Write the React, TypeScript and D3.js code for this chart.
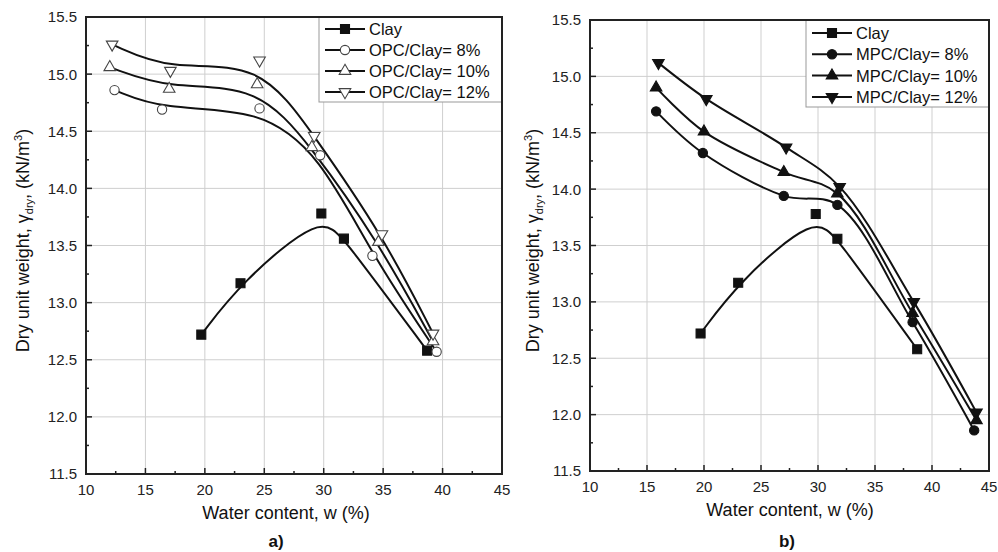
import React, { useRef, useEffect } from "react";
import * as d3 from "d3";

// Clay (same in both panels)
const clayW = [19.7, 23.0, 29.8, 31.7, 38.7];
const clayG = [12.72, 13.17, 13.78, 13.56, 12.58];

// panel a) OPC
const opc8W = [12.4, 16.4, 24.6, 29.7, 34.1, 39.5];
const opc8G = [14.86, 14.69, 14.7, 14.29, 13.41, 12.57];
const opc10W = [12.0, 17.0, 24.4, 29.0, 34.6, 39.2];
const opc10G = [15.06, 14.87, 14.91, 14.36, 13.53, 12.66];
const opc12W = [12.2, 17.1, 24.6, 29.2, 34.9, 39.2];
const opc12G = [15.26, 15.03, 15.12, 14.46, 13.6, 12.73];

// panel b) MPC
const mpc8W = [15.8, 19.9, 27.0, 31.7, 38.3, 43.7];
const mpc8G = [14.69, 14.32, 13.94, 13.86, 12.82, 11.86];
const mpc10W = [15.8, 20.0, 27.0, 31.7, 38.3, 43.9];
const mpc10G = [14.9, 14.51, 14.15, 13.96, 12.9, 11.95];
const mpc12W = [16.0, 20.2, 27.2, 31.9, 38.4, 43.9];
const mpc12G = [15.12, 14.8, 14.37, 14.02, 13.0, 12.02];

const xTicks = [10, 15, 20, 25, 30, 35, 40, 45];
const yTicks = [11.5, 12.0, 12.5, 13.0, 13.5, 14.0, 14.5, 15.0, 15.5];

const FONT = "'Liberation Sans', Arial, sans-serif";

type Series = {
  name: string;
  w: number[];
  g: number[];
  sym: string; // square | circle | up | down
  filled: boolean;
  curve: any;
};

type Panel = {
  left: number; right: number; top: number; bottom: number;
  legX: number; legW: number; legH: number; legRow0: number; legStep: number;
  xTitleX: number; yTitleX: number; tag: string; tagX: number;
  series: Series[];
};

const smooth = d3.curveCatmullRom.alpha(0.5);

const panels: Panel[] = [
  {
    left: 86, right: 502, top: 17, bottom: 474,
    legX: 319, legW: 183, legH: 85, legRow0: 29, legStep: 21,
    xTitleX: 286, yTitleX: 29, tag: "a)", tagX: 276,
    series: [
      { name: "Clay", w: clayW, g: clayG, sym: "square", filled: true, curve: d3.curveBasis },
      { name: "OPC/Clay= 8%", w: opc8W, g: opc8G, sym: "circle", filled: false, curve: d3.curveBasis },
      { name: "OPC/Clay= 10%", w: opc10W, g: opc10G, sym: "up", filled: false, curve: d3.curveBasis },
      { name: "OPC/Clay= 12%", w: opc12W, g: opc12G, sym: "down", filled: false, curve: d3.curveBasis },
    ],
  },
  {
    left: 590, right: 989, top: 20, bottom: 471,
    legX: 806, legW: 183, legH: 87, legRow0: 33, legStep: 21.3,
    xTitleX: 790, yTitleX: 539, tag: "b)", tagX: 787,
    series: [
      { name: "Clay", w: clayW, g: clayG, sym: "square", filled: true, curve: d3.curveBasis },
      { name: "MPC/Clay= 8%", w: mpc8W, g: mpc8G, sym: "circle", filled: true, curve: smooth },
      { name: "MPC/Clay= 10%", w: mpc10W, g: mpc10G, sym: "up", filled: true, curve: smooth },
      { name: "MPC/Clay= 12%", w: mpc12W, g: mpc12G, sym: "down", filled: true, curve: smooth },
    ],
  },
];

function symPath(sym: string) {
  if (sym === "square") return d3.symbol().type(d3.symbolSquare).size(81)();
  if (sym === "circle") return d3.symbol().type(d3.symbolCircle).size(68)();
  return d3.symbol().type(d3.symbolTriangle).size(58)();
}

function drawMarker(g: any, sym: string, filled: boolean, x: number, y: number) {
  g.append("path")
    .attr("d", symPath(sym))
    .attr("transform", `translate(${x},${y})${sym === "down" ? " rotate(180)" : ""}`)
    .attr("fill", filled ? "#111" : "#fff")
    .attr("stroke", filled ? "#111" : "#444")
    .attr("stroke-width", 1.1);
}

function drawPanel(root: any, p: Panel) {
  const x = d3.scaleLinear().domain([10, 45]).range([p.left, p.right]);
  const y = d3.scaleLinear().domain([11.5, 15.5]).range([p.bottom, p.top]);
  const g = root.append("g");

  // grid
  g.selectAll(".gx").data(xTicks.slice(1, -1)).join("line")
    .attr("x1", (d: number) => x(d)).attr("x2", (d: number) => x(d))
    .attr("y1", p.top).attr("y2", p.bottom)
    .attr("stroke", "#cfcfcf").attr("stroke-width", 1);
  g.selectAll(".gy").data(yTicks.slice(1, -1)).join("line")
    .attr("y1", (d: number) => y(d)).attr("y2", (d: number) => y(d))
    .attr("x1", p.left).attr("x2", p.right)
    .attr("stroke", "#cfcfcf").attr("stroke-width", 1);

  // ticks (inward)
  const xMinor = d3.range(12.5, 45, 5);
  const yMinor = d3.range(11.75, 15.5, 0.5);
  xTicks.forEach(t => g.append("line").attr("x1", x(t)).attr("x2", x(t)).attr("y1", p.bottom).attr("y2", p.bottom - 6).attr("stroke", "#222").attr("stroke-width", 1.5));
  xMinor.forEach(t => g.append("line").attr("x1", x(t)).attr("x2", x(t)).attr("y1", p.bottom).attr("y2", p.bottom - 3).attr("stroke", "#222").attr("stroke-width", 1.5));
  yTicks.forEach(t => g.append("line").attr("y1", y(t)).attr("y2", y(t)).attr("x1", p.left).attr("x2", p.left + 6).attr("stroke", "#222").attr("stroke-width", 1.5));
  yMinor.forEach(t => g.append("line").attr("y1", y(t)).attr("y2", y(t)).attr("x1", p.left).attr("x2", p.left + 3).attr("stroke", "#222").attr("stroke-width", 1.5));

  // tick labels
  g.selectAll(".xl").data(xTicks).join("text")
    .attr("x", (d: number) => x(d)).attr("y", p.bottom + 21)
    .attr("text-anchor", "middle").attr("font-family", FONT).attr("font-size", 15).attr("fill", "#222")
    .text((d: number) => String(d));
  g.selectAll(".yl").data(yTicks).join("text")
    .attr("x", p.left - 9).attr("y", (d: number) => y(d)).attr("dy", "0.36em")
    .attr("text-anchor", "end").attr("font-family", FONT).attr("font-size", 15).attr("fill", "#222")
    .text((d: number) => d.toFixed(1));

  // curves + markers
  p.series.forEach(s => {
    const pts = s.w.map((w, i) => [w, s.g[i]] as [number, number]);
    const line = d3.line<[number, number]>().x(d => x(d[0])).y(d => y(d[1])).curve(s.curve);
    g.append("path").attr("d", line(pts)).attr("fill", "none").attr("stroke", "#111").attr("stroke-width", 2);
  });
  p.series.forEach(s => {
    s.w.forEach((w, i) => drawMarker(g, s.sym, s.filled, x(w), y(s.g[i])));
  });

  // legend
  g.append("rect").attr("x", p.legX).attr("y", p.top).attr("width", p.legW).attr("height", p.legH)
    .attr("fill", "#fff").attr("stroke", "#999").attr("stroke-width", 1);
  p.series.forEach((s, i) => {
    const ry = p.legRow0 + i * p.legStep;
    g.append("line").attr("x1", p.legX + 6).attr("x2", p.legX + 46).attr("y1", ry).attr("y2", ry)
      .attr("stroke", "#111").attr("stroke-width", 2);
    drawMarker(g, s.sym, s.filled, p.legX + 26, ry);
    g.append("text").attr("x", p.legX + 50).attr("y", ry).attr("dy", "0.36em")
      .attr("font-family", FONT).attr("font-size", 16.5).attr("fill", "#111").text(s.name);
  });

  // frame
  g.append("rect").attr("x", p.left).attr("y", p.top).attr("width", p.right - p.left).attr("height", p.bottom - p.top)
    .attr("fill", "none").attr("stroke", "#222").attr("stroke-width", 2);

  // axis titles
  g.append("text").attr("x", p.xTitleX).attr("y", p.bottom + 45).attr("text-anchor", "middle")
    .attr("font-family", FONT).attr("font-size", 18).attr("fill", "#111").text("Water content, w (%)");
  const yt = g.append("text")
    .attr("transform", `translate(${p.yTitleX},${(p.top + p.bottom) / 2 - 5}) rotate(-90)`)
    .attr("text-anchor", "middle").attr("font-family", FONT).attr("font-size", 18).attr("fill", "#111");
  yt.append("tspan").text("Dry unit weight, γ");
  yt.append("tspan").attr("font-size", 11).attr("dy", 4).text("dry");
  yt.append("tspan").attr("dy", -4).text(", (kN/m");
  yt.append("tspan").attr("font-size", 11).attr("dy", -7).text("3");
  yt.append("tspan").attr("dy", 7).text(")");

  g.append("text").attr("x", p.tagX).attr("y", 547).attr("text-anchor", "middle")
    .attr("font-family", FONT).attr("font-size", 17).attr("font-weight", "bold").attr("fill", "#111").text(p.tag);
}

const App = () => {
  const ref = useRef<SVGSVGElement>(null);

  useEffect(() => {
    const svg = d3.select(ref.current);
    svg.selectAll("*").remove();
    svg.append("rect").attr("width", 998).attr("height", 552).attr("fill", "#fff");
    panels.forEach(p => drawPanel(svg, p));
  }, []);

  return (
    <svg ref={ref} width={998} height={552}
      style={{ position: "absolute", left: 0, top: 0, background: "#fff" }} />
  );
};

export default App;
